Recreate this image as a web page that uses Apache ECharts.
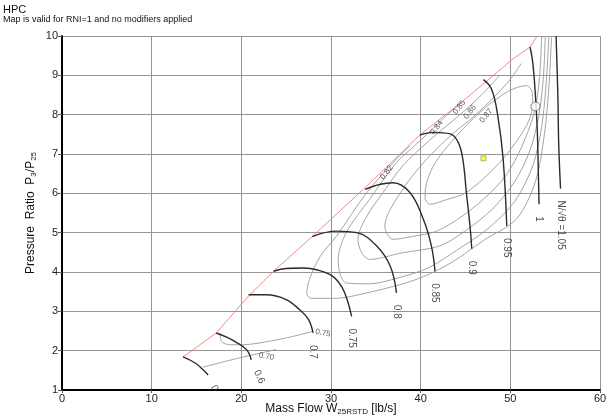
<!DOCTYPE html>
<html>
<head>
<meta charset="utf-8">
<script src="https://cdn.jsdelivr.net/npm/echarts@6/dist/echarts.min.js"></script>
<style>
html, body { margin: 0; padding: 0; background: #fff; }
#chart { width: 608px; height: 417px; }
</style>
</head>
<body>
<div id="chart"></div>
<script>
// surge line (red)
var surgeLine = [[13.5, 1.84], [17.2, 2.45], [20.85, 3.40], [23.6, 4.02], [27.9, 4.9], [33.6, 6.1],
	[39.9, 7.48], [45.0, 8.4], [50.3, 9.42], [52.2, 9.72], [53.0, 10]];

// corrected speed lines
var speedNames = ['0', '0.6', '0.7', '0.75', '0.8', '0.85', '0.9', '0.95', '1', 'N/\u221A\u03B8 =1.05'];
var speedLines = [
	[[13.5, 1.84], [14.9, 1.68], [15.8, 1.5], [16.3, 1.38]],
	[[17.2, 2.45], [18.3, 2.35], [19.3, 2.23], [20.6, 2.02], [21.1, 1.77]],
	[[20.8, 3.42], [22.8, 3.42], [25.0, 3.30], [26.5, 3.04], [27.5, 2.79], [28.0, 2.45]],
	[[23.6, 4.02], [25.0, 4.09], [26.9, 4.1], [28.5, 4.05], [30.2, 3.89], [31.2, 3.62], [31.8, 3.3], [32.3, 2.87]],
	[[27.9, 4.9], [30.6, 5.04], [32.9, 5.0], [35.1, 4.66], [36.6, 4.15], [37.3, 3.47]],
	[[33.8, 6.1], [35.5, 6.23], [36.9, 6.27], [38.8, 6.02], [40.3, 5.34], [41.2, 4.66], [41.6, 4.02]],
	[[39.9, 7.48], [41.4, 7.55], [43.3, 7.51], [44.2, 7.29], [44.7, 6.87], [45.1, 6.02], [45.5, 5.17], [45.7, 4.59]],
	[[47.0, 8.89], [47.9, 8.65], [48.6, 7.97], [49.2, 6.87], [49.6, 5.17]],
	[[52.2, 9.72], [52.5, 9.33], [52.8, 8.48], [53.0, 7.63], [53.1, 6.78], [53.2, 5.72]],
	[[55.1, 10.0], [55.3, 8.48], [55.4, 7.21], [55.6, 6.12]]
];

// efficiency contours
var effNames = ['0.70', '0.75', '0.82', '0.84', '0.85', '0.86', '0.87'];
var effLines = [
	[[15.7, 1.58], [19.5, 1.8], [23.9, 2.03]],
	[[17.6, 2.45], [17.8, 2.23], [18.7, 2.15], [20.0, 2.15], [24.3, 2.29], [28.0, 2.49]],
	[[38.8, 7.2], [37.3, 6.87], [34.0, 6.02], [30.6, 4.91], [28.8, 4.4], [27.6, 3.81], [27.3, 3.45],
		[27.8, 3.33], [30.6, 3.33], [34.0, 3.47], [37.7, 3.68], [40.3, 3.88], [43.5, 4.25], [47.0, 4.8],
		[50.7, 5.35], [52.8, 6.3], [53.8, 7.5], [54.3, 8.7], [54.6, 10]],
	[[44.5, 8.3], [42.5, 7.9], [40.0, 7.35], [37.3, 6.78], [34.3, 5.85], [31.7, 5.0], [30.8, 4.32],
		[31.0, 3.95], [31.7, 3.72], [34.3, 3.7], [37.5, 3.85], [40.8, 4.1], [44.0, 4.55], [47.5, 5.1],
		[50.5, 5.8], [52.5, 6.7], [53.5, 7.7], [54.0, 8.8], [54.3, 10]],
	[[48.8, 9.0], [47.0, 8.55], [44.9, 8.1], [41.0, 7.35], [38.0, 6.7], [35.8, 6.02], [34.0, 5.42], [33.0, 4.83],
		[33.4, 4.5], [34.3, 4.32], [38.0, 4.49], [42.1, 4.66], [45.0, 5.05], [48.0, 5.6], [50.5, 6.3],
		[52.2, 7.1], [53.2, 8.0], [53.7, 9.0], [53.9, 10]],
	[[51.2, 9.3], [50.0, 8.9], [48.2, 8.45], [45.9, 7.95], [43.5, 7.5], [41.0, 6.95], [38.8, 6.36], [36.6, 5.59],
		[36.0, 5.17], [36.3, 4.95], [36.9, 4.83], [39.0, 4.9], [41.8, 5.04], [44.5, 5.4], [47.0, 5.85],
		[49.5, 6.45], [51.3, 7.2], [52.6, 8.0], [53.2, 8.8], [53.4, 9.5], [53.5, 10]],
	[[40.5, 5.85], [41.0, 5.72], [43.0, 5.85], [45.1, 6.02], [48.8, 6.78], [51.8, 7.72], [52.5, 8.3],
		[52.4, 8.6], [51.8, 8.74], [49.9, 8.61], [47.0, 8.14], [44.0, 7.46], [41.4, 6.69], [40.5, 6.0], [40.5, 5.85]]
];
var effLabelPos = [[22.8, 1.85], [29.1, 2.45], [36.2, 6.53], [41.8, 7.67], [44.3, 8.19], [45.5, 8.07], [47.3, 7.97]];

var opPoint = [52.8, 8.21];
var designPoint = [47.0, 6.89];

var font = 'Liberation Sans, Arial, sans-serif';

var series = [];

effLines.forEach(function (d, i) {
	series.push({
		name: 'eff ' + effNames[i],
		type: 'line',
		data: d,
		showSymbol: false,
		symbol: 'none',
		smooth: 0.3,
		z: 2,
		lineStyle: { color: '#9a9a9a', width: 0.9 }
	});
});

series.push({
	name: 'surge',
	type: 'line',
	data: surgeLine,
	showSymbol: false,
	symbol: 'none',
	z: 3,
	lineStyle: { color: '#f28a8a', width: 1 }
});

speedLines.forEach(function (d, i) {
	series.push({
		name: 'N ' + speedNames[i],
		type: 'line',
		data: d,
		showSymbol: false,
		symbol: 'none',
		smooth: 0.4,
		z: 4,
		lineStyle: { color: '#2b2b2b', width: 1.4 }
	});
});

// speed line labels at the end of each line
series.push({
	name: 'speed labels',
	type: 'scatter',
	symbolSize: 0,
	z: 5,
	data: speedLines.map(function (d, i) {
		return {
			name: speedNames[i],
			value: d[d.length - 1],
			label: { rotate: i < 2 ? -65 : -90 }
		};
	}),
	label: {
		show: true,
		formatter: '{b}',
		position: 'inside',
		align: 'left',
		verticalAlign: 'middle',
		offset: [12, 0],
		color: '#222',
		fontSize: 10,
		fontFamily: font
	}
});

// efficiency labels
series.push({
	name: 'eff labels',
	type: 'scatter',
	symbolSize: 0,
	z: 5,
	data: effLabelPos.map(function (p, i) {
		return {
			name: effNames[i],
			value: p,
			label: { rotate: i < 2 ? -10 : 52 }
		};
	}),
	label: {
		show: true,
		formatter: '{b}',
		position: 'inside',
		color: '#333',
		fontSize: 8,
		fontFamily: font
	}
});

series.push({
	name: 'op',
	type: 'scatter',
	symbol: 'circle',
	symbolSize: 9,
	z: 6,
	itemStyle: { color: '#fff', borderColor: '#666', borderWidth: 1 },
	data: [opPoint]
});
series.push({
	name: 'design',
	type: 'scatter',
	symbol: 'rect',
	symbolSize: 5,
	z: 6,
	itemStyle: { color: '#ffff00', borderColor: '#888', borderWidth: 0.8 },
	data: [designPoint]
});

var option = {
	animation: false,
	backgroundColor: '#fff',
	textStyle: { fontFamily: font },
	title: {
		text: 'HPC',
		subtext: 'Map is valid for RNI=1 and no modifiers applied',
		left: 3,
		top: 4,
		itemGap: 0,
		padding: 0,
		textStyle: { fontSize: 11, fontWeight: 'normal', color: '#111', fontFamily: font },
		subtextStyle: { fontSize: 9, color: '#111', fontFamily: font }
	},
	grid: { left: 62, right: 8, top: 36, bottom: 27, containLabel: false, outerBoundsMode: 'none' },
	xAxis: {
		type: 'value',
		min: 0,
		max: 60,
		interval: 10,
		name: '{a|Mass Flow W}{s|25RSTD}{a| [lb/s]}',
		nameLocation: 'middle',
		nameGap: 12,
		nameMoveOverlap: false,
		nameTextStyle: {
			rich: {
				a: { fontSize: 12, color: '#111', fontFamily: font, lineHeight: 14 },
				s: { fontSize: 8, color: '#111', fontFamily: font, lineHeight: 14, verticalAlign: 'top', padding: [6, 0, 0, 0] }
			}
		},
		axisLine: { show: true, onZero: false, lineStyle: { color: '#000', width: 2 } },
		axisTick: { show: true, length: 3, lineStyle: { color: '#555' } },
		axisLabel: { color: '#222', fontSize: 11, margin: 3 },
		splitLine: { show: true, lineStyle: { color: '#959595', width: 1 } }
	},
	yAxis: {
		type: 'value',
		min: 1,
		max: 10,
		interval: 1,
		name: '{a|Pressure  Ratio  P}{s|3}{a|/P}{s|25}',
		nameLocation: 'middle',
		nameGap: 24,
		nameMoveOverlap: false,
		nameTextStyle: {
			rich: {
				a: { fontSize: 12, color: '#111', fontFamily: font, lineHeight: 14 },
				s: { fontSize: 8, color: '#111', fontFamily: font, lineHeight: 14, verticalAlign: 'top', padding: [6, 0, 0, 0] }
			}
		},
		axisLine: { show: true, onZero: false, lineStyle: { color: '#000', width: 2 } },
		axisTick: { show: true, length: 4, lineStyle: { color: '#555' } },
		axisLabel: { color: '#222', fontSize: 11, margin: 4 },
		splitLine: { show: true, lineStyle: { color: '#959595', width: 1 } }
	},
	series: series
};

var myChart = echarts.init(document.getElementById('chart'));
myChart.setOption(option);
</script>
</body>
</html>
